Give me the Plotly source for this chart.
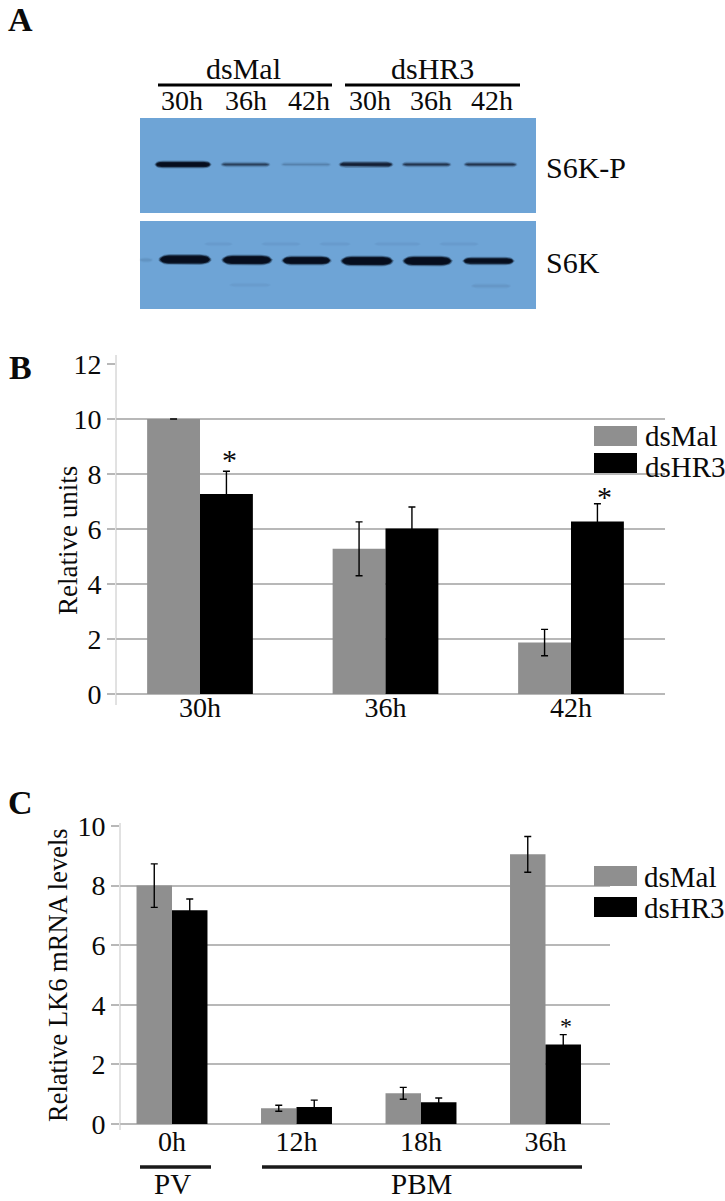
import numpy as np
import plotly.graph_objects as go

W, H = 725, 1201
SERIF = "Liberation Serif"
GREY, BLACK, GRID = "#8f8f8f", "#000000", "#b8b8b8"
INK = "#0a0a0a"
SERIES = ["dsMal", "dsHR3"]

# Panel B
b_cats = ["30h", "36h", "42h"]
b_mal = [10.0, 5.28, 1.87]
b_mal_err = [0.0, 0.98, 0.48]
b_hr3 = [7.27, 6.02, 6.27]
b_hr3_err = [0.83, 0.78, 0.65]

# Panel C
c_cats = ["0h", "12h", "18h", "36h"]
c_mal = [8.0, 0.53, 1.03, 9.05]
c_mal_err = [0.73, 0.10, 0.20, 0.60]
c_hr3 = [7.17, 0.57, 0.73, 2.67]
c_hr3_err = [0.38, 0.23, 0.14, 0.33]

# Panel A: band darkness by lane
lanes = ["30h", "36h", "42h", "30h", "36h", "42h"]
s6kp_strength = [1.0, 0.38, 0.1, 0.65, 0.45, 0.45]
s6k_strength = [1.0, 1.0, 1.0, 1.0, 1.0, 1.0]

fig = go.Figure()

def dom_x(a, b): return [a / W, b / W]
def dom_y(top, bot): return [1 - bot / H, 1 - top / H]

def bars(vals, errs, cats, name, color, xa, ya):
    fig.add_trace(go.Bar(
        x=list(range(len(cats))), y=vals, name=name, marker=dict(color=color, line_width=0),
        error_y=dict(type="data", array=errs, color="#000000", thickness=1.4, width=3.5),
        xaxis=xa, yaxis=ya, showlegend=False, offsetgroup=name))

bars(b_mal, b_mal_err, b_cats, SERIES[0], GREY, "x", "y")
bars(b_hr3, b_hr3_err, b_cats, SERIES[1], BLACK, "x", "y")
bars(c_mal, c_mal_err, c_cats, SERIES[0], GREY, "x2", "y2")
bars(c_hr3, c_hr3_err, c_cats, SERIES[1], BLACK, "x2", "y2")

# Blot bands on a page-sized pixel axis
lane_x = [(156, 210), (222, 269), (282, 330), (340, 392), (403, 450), (465, 516)]
lane_x2 = [(160, 210), (223, 271), (283, 330), (342, 392), (404, 451), (464, 513)]
p_thick = [5, 3, 2.5, 4, 3, 3]
k_thick = [8, 8, 7, 8, 8, 5.5]
k_y = [259.5, 260, 260.5, 261, 261, 261]

def band(x0, x1, y, s, thick):
    for grow, a in [(1.6, .22), (0.8, .4), (0, .8), (-1, .9)]:
        h = max(thick / 2 + grow, .4)
        r = min(h * 2.2, (x1 - x0) / 2)
        t = np.linspace(-np.pi / 2, np.pi / 2, 12)
        xs = list(x1 + grow - r + r * np.cos(t)) + list(x0 - grow + r - r * np.cos(t[::-1]))
        ys = list(y + h * np.sin(t)) + list(y + h * np.sin(t[::-1]))
        fig.add_trace(go.Scatter(
            x=xs, y=ys, mode="lines", fill="toself", xaxis="x3", yaxis="y3",
            fillcolor=f"rgba(6,12,28,{a * s:.3f})", line_width=0, showlegend=False, hoverinfo="skip"))

for (x0, x1), s, th in zip(lane_x, s6kp_strength, p_thick):
    band(x0, x1, 164.5, s, th)
for (x0, x1), s, th, y in zip(lane_x2, s6k_strength, k_thick, k_y):
    band(x0, x1, y, s, th)
for x0, x1 in [(205, 232), (262, 300), (320, 350), (375, 420), (440, 478)]:
    band(x0, x1, 244, .022, 3)
band(472, 510, 286, .035, 3)
band(230, 270, 285, .018, 3)
band(140, 152, 260, .05, 3)

shapes, ann = [], []
def rect(x0, y0, x1, y1, color):
    shapes.append(dict(type="rect", xref="x3", yref="y3", x0=x0, x1=x1, y0=y0, y1=y1,
                       fillcolor=color, line_width=0, layer="below"))
def line(x0, y0, x1, y1, color, w):
    shapes.append(dict(type="line", xref="x3", yref="y3", x0=x0, x1=x1, y0=y0, y1=y1,
                       line=dict(color=color, width=w)))
def text(x, y, s, size=30, bold=False, anchor="center", angle=0):
    ann.append(dict(xref="x3", yref="y3", x=x, y=y, text=f"<b>{s}</b>" if bold else s, showarrow=False,
                    xanchor=anchor, yanchor="middle", textangle=angle,
                    font=dict(family=SERIF, size=size, color=INK)))

# Panel A
rect(140, 118, 536, 213, "#6ea4d6")
rect(140, 221, 536, 309, "#6ea4d6")
line(158, 85, 332, 85, "#000000", 3)
line(345, 85, 520, 85, "#000000", 3)
text(243, 68, "dsMal"); text(432, 68, "dsHR3")
for cx, lab in zip([182, 246, 309, 370, 431, 492], lanes):
    text(cx, 100, lab, 28)
text(544, 167, "S6K-P", anchor="left"); text(544, 262, "S6K", anchor="left")
text(20, 19, "A", 34, True); text(20, 367, "B", 34, True); text(20, 802, "C", 34, True)

# Extended y-axis lines
line(116, 355, 116, 705, "#c4c4c4", 1)
line(120, 823, 120, 1130, "#c4c4c4", 1)

# Y-axis titles
text(68, 541, "Relative units", 27, angle=-90)
text(58, 975, "Relative LK6 mRNA levels", 26.5, angle=-90)

# Legends
for top, lab, col, ty in [(426, SERIES[0], GREY, 436), (453, SERIES[1], BLACK, 466.5)]:
    rect(594, top, 637, top + 20, col)
    text(643, ty, lab, 29, anchor="left")
for top, lab, col, ty in [(866, SERIES[0], GREY, 877), (897, SERIES[1], BLACK, 908)]:
    rect(594, top, 637, top + 20, col)
    text(642, ty, lab, 29, anchor="left")

# Asterisks and panel C brackets
text(229, 459, "*", 30); text(604, 496, "*", 30); text(566, 1026, "*", 24)
line(140, 1167, 211, 1167, "#1a1a1a", 3.5)
line(262, 1167, 582, 1167, "#1a1a1a", 3.5)
text(172, 1184, "PV", 29); text(421, 1184, "PBM", 29)

def xax(dom, rng, cats, label_y):
    return dict(domain=dom, range=rng, anchor="free", position=1 - label_y / H, automargin=False,
                tickmode="array", tickvals=list(range(len(cats))), ticktext=cats,
                showgrid=False, zeroline=False, showline=False, ticks="",
                tickfont=dict(family=SERIF, size=28, color=INK))
def yax(dom, rng, dtick, anchor):
    return dict(domain=dom, range=rng, anchor=anchor, automargin=False, tick0=0, dtick=dtick,
                showgrid=True, gridcolor=GRID, gridwidth=2,
                zeroline=True, zerolinecolor=GRID, zerolinewidth=2, showline=False,
                ticks="outside", ticklen=8, tickcolor=GRID, tickwidth=2,
                tickfont=dict(family=SERIF, size=28, color=INK))

fig.update_layout(
    width=W, height=H, margin=dict(l=0, r=0, t=0, b=0), paper_bgcolor="white", plot_bgcolor="rgba(0,0,0,0)",
    barmode="group", bargap=0.43, bargroupgap=0, showlegend=False, shapes=shapes, annotations=ann,
    xaxis=xax(dom_x(116, 665), [-84 / 185.5, (665 - 200) / 185.5], b_cats, 688),
    yaxis=yax(dom_y(364, 694), [0, 12], 2, "x"),
    xaxis2=xax(dom_x(120, 610), [-52 / 124.5, (610 - 172) / 124.5], c_cats, 1122),
    yaxis2=yax(dom_y(826, 1124), [0, 10], 2, "x2"),
    xaxis3=dict(domain=[0, 1], range=[0, W], anchor="y3", visible=False, fixedrange=True, automargin=False),
    yaxis3=dict(domain=[0, 1], range=[H, 0], anchor="x3", visible=False, fixedrange=True, automargin=False),
)
fig.write_html("out.html", config={"displayModeBar": False}, post_script="document.body.style.margin='0';")
